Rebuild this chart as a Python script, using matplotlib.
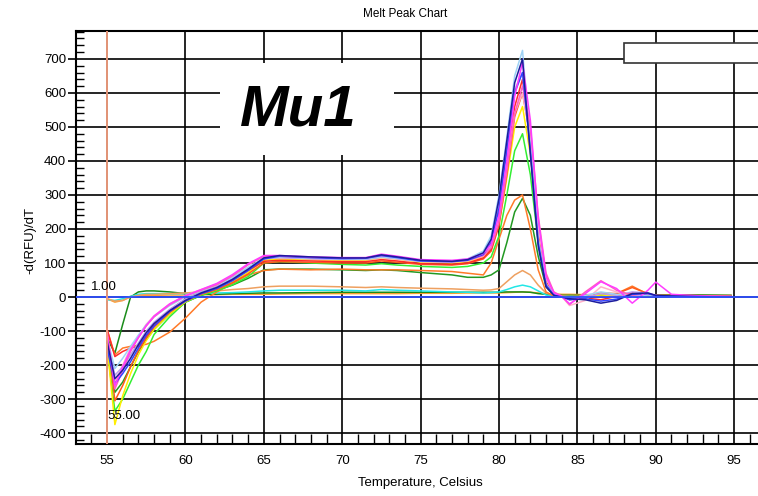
import matplotlib.pyplot as plt
from matplotlib.patches import Rectangle
from matplotlib.ticker import MultipleLocator

plt.rcParams["font.family"] = ["Liberation Sans", "DejaVu Sans"]
plt.rcParams["axes.unicode_minus"] = False

# Temperature points (Celsius) shared by all wells
temps = [55.0, 55.5, 56.0, 56.5, 57.0, 57.5, 58.0, 59.0, 60.0, 61.0, 62.0,
         63.0, 64.0, 65.0, 66.0, 68.0, 70.0, 71.5, 72.5, 73.5, 75.0, 77.0,
         78.0, 79.0, 79.5, 80.0, 80.5, 81.0, 81.5, 82.0, 82.5, 83.0, 83.5,
         84.0, 84.5, 85.5, 86.5, 87.5, 88.5, 89.5, 90.0, 91.0, 93.0, 94.8]

# -d(RFU)/dT per well
navy = [-130, -240, -215, -180, -140, -105, -78, -40, -10, 12, 28, 52, 82, 115, 122, 118, 115, 115, 124, 118, 108, 105,
        110, 130, 170, 290, 460, 630, 700, 420, 150, 30, 5, 0, -5, -8, -18, -10, 10, 12, 5, 3, 1, 0]
blue = [-150, -255, -225, -190, -150, -112, -85, -42, -12, 10, 25, 48, 78, 112, 120, 116, 113, 114, 122, 116, 106, 104,
        108, 125, 160, 260, 430, 600, 660, 430, 160, 35, 6, 0, -8, -5, -12, -6, 8, 10, 4, 2, 1, 0]
light_blue = [-120, -210, -180, -145, -112, -82, -58, -25, 0, 18, 35, 58, 88, 114, 118, 114, 112, 112, 118, 114, 106,
              106, 112, 135, 180, 300, 470, 650, 725, 450, 170, 35, 6, 0, -5, 5, 15, 8, 2, 6, 4, 2, 1, 0]
magenta = [-110, -260, -205, -155, -118, -84, -56, -20, 4, 22, 40, 66, 98, 122, 122, 118, 116, 116, 126, 120, 110, 108,
           112, 128, 155, 240, 400, 590, 690, 520, 230, 60, 12, 2, -20, 10, 45, 25, -18, 20, 44, 8, 3, 2]
hot_pink = [-100, -270, -215, -160, -120, -85, -58, -22, 3, 20, 36, 62, 95, 120, 120, 116, 114, 114, 122, 118, 108,
            106, 108, 122, 145, 220, 370, 540, 620, 500, 240, 70, 15, 3, -22, 15, 48, 20, 5, 10, 5, 3, 2, 1]
pink = [-115, -250, -200, -150, -115, -80, -55, -20, 5, 22, 38, 62, 95, 118, 115, 112, 110, 110, 116, 112, 104, 102,
        106, 120, 150, 235, 390, 540, 600, 470, 210, 55, 10, 2, -25, -10, 30, 15, 0, 8, 4, 2, 1, 0]
red = [-95, -175, -160, -150, -145, -115, -80, -38, -6, 14, 30, 50, 78, 105, 108, 106, 104, 104, 110, 106, 98, 96,
       100, 115, 140, 220, 380, 560, 640, 480, 200, 45, 8, 1, -6, -3, -8, 2, 12, 6, 3, 2, 1, 0]
lavender = [-125, -230, -205, -170, -135, -100, -74, -36, -6, 14, 30, 54, 84, 112, 116, 113, 111, 111, 118, 113, 105,
            104, 109, 128, 165, 270, 440, 610, 660, 440, 170, 40, 7, 1, -4, 0, 10, 5, 15, 12, 4, 2, 1, 0]
yellow = [-140, -375, -290, -225, -170, -128, -95, -50, -14, 8, 22, 44, 72, 108, 112, 110, 108, 108, 116, 112, 102, 100,
          104, 118, 140, 215, 350, 500, 560, 420, 190, 45, 8, 1, -3, 2, 6, 4, 3, 4, 3, 2, 1, 0]
lime = [-150, -335, -300, -250, -200, -160, -110, -58, -15, 5, 18, 36, 60, 100, 104, 100, 96, 94, 98, 94, 90, 87,
        90, 100, 118, 180, 300, 430, 480, 360, 160, 40, 8, 1, 0, 3, 8, 5, 4, 3, 2, 1, 1, 0]
red_orange = [-105, -305, -260, -205, -158, -120, -88, -45, -12, 8, 22, 42, 68, 100, 104, 102, 100, 100, 106, 102, 96,
              94, 98, 112, 135, 210, 360, 530, 600, 470, 220, 60, 12, 2, -8, 0, 12, 10, 28, 10, 4, 2, 1, 0]
orange_mid = [-95, -170, -150, -145, -142, -139, -130, -103, -62, -15, 15, 40, 65, 78, 82, 80, 82, 80, 80, 80, 78, 75,
              70, 65, 100, 170, 240, 285, 300, 200, 80, 15, 3, 0, 0, 5, 8, 10, 32, 8, 5, 5, 4, 3]
green_mid = [-120, -280, -250, -205, -160, -125, -95, -50, -15, 5, 20, 35, 55, 80, 82, 82, 80, 78, 80, 78, 72, 65,
             58, 58, 65, 80, 160, 250, 290, 240, 120, 30, 5, 0, 0, 4, 6, 8, 10, 6, 4, 3, 2, 2]
tan_low = [-5, -12, -10, 0, 5, 8, 8, 10, 12, 15, 18, 22, 25, 30, 32, 32, 30, 28, 30, 28, 26, 24,
           22, 20, 21, 25, 45, 65, 78, 65, 35, 12, 5, 3, 2, 2, 3, 3, 3, 2, 2, 2, 2, 1]
cyan_low = [-8, -10, -5, 2, 8, 10, 10, 10, 10, 11, 12, 13, 15, 18, 20, 20, 20, 18, 22, 20, 18, 15,
            14, 12, 13, 15, 22, 30, 35, 30, 18, 6, 3, 2, 2, 3, 4, 5, 3, 2, 2, 2, 1, 1]
green_low = [-120, -165, -80, 0, 15, 18, 18, 15, 10, 8, 8, 10, 11, 12, 12, 13, 14, 14, 14, 14, 14, 14,
             14, 14, 14, 14, 15, 15, 15, 14, 10, 8, 6, 5, 5, 5, 6, 6, 6, 6, 6, 6, 6, 5]
orange_low = [-5, -15, -10, 2, 5, 5, 5, 6, 6, 7, 7, 8, 8, 8, 9, 10, 10, 10, 10, 10, 11, 11,
              12, 12, 12, 12, 13, 14, 15, 14, 12, 10, 9, 8, 8, 7, 7, 7, 7, 6, 6, 6, 5, 5]

wells = [
    (orange_low, "#ffa030"), (green_low, "#1a8c1a"), (cyan_low, "#22e6e6"), (tan_low, "#eea060"),
    (green_mid, "#229922"), (orange_mid, "#ff7a28"), (lime, "#33ee33"), (yellow, "#ffee00"),
    (red_orange, "#ff5a1a"), (red, "#ff2a2a"), (pink, "#ffb0c8"), (lavender, "#b89cf0"),
    (light_blue, "#9fd3f5"), (hot_pink, "#ff5fbf"), (blue, "#3344ff"), (magenta, "#ff3cff"),
    (navy, "#1c1c9c"),
]

W, H = 758, 496
fig = plt.figure(figsize=(W / 100, H / 100), dpi=100)
ax = fig.add_axes([76 / W, 52 / H, (W - 76) / W, (444 - 31) / H])

for vals, col in wells:
    ax.plot(temps, vals, color=col, lw=1.1, zorder=3)

ax.axhline(0, color="#3050ff", lw=1.3, zorder=4)
ax.axvline(55, color="#f5a080", lw=1.3, zorder=4)

ax.set_xlim(53.02, 96.52)
ax.set_ylim(-432, 782)
ax.xaxis.set_major_locator(MultipleLocator(5))
ax.xaxis.set_minor_locator(MultipleLocator(1))
ax.yaxis.set_major_locator(MultipleLocator(100))
ax.yaxis.set_minor_locator(MultipleLocator(20))
ax.grid(True, which="major", color="black", lw=1.2, zorder=1)
ax.set_axisbelow(True)

ax.spines["right"].set_visible(False)
for s in ["left", "bottom", "top"]:
    ax.spines[s].set_linewidth(1.5)
ax.tick_params(axis="y", which="major", direction="out", length=6, width=1.2, labelsize=9.5, pad=1)
ax.tick_params(axis="y", which="minor", direction="in", length=6, width=1.0)
ax.tick_params(axis="x", which="major", direction="in", length=0, labelsize=9.5, pad=8)
ax.tick_params(axis="x", which="minor", direction="in", length=7, width=1.0)

ax.text(54.0, 30, "1.00", fontsize=9.5, va="center", ha="left", zorder=5)
ax.text(55.0, -349, "55.00", fontsize=9.5, va="center", ha="left", zorder=5)

# white box behind the big label
ax.add_patch(Rectangle(((220 - 76) / (W - 76), (444 - 155) / 413), 174 / (W - 76), 92 / 413,
                       transform=ax.transAxes, facecolor="white", edgecolor="none", zorder=2))
ax.text((298 - 76) / (W - 76), (444 - 111) / 413, "Mu1", transform=ax.transAxes,
        fontsize=42, fontweight="bold", fontstyle="italic", ha="center", va="center", zorder=5)

# empty legend box, top right
ax.add_patch(Rectangle(((624 - 76) / (W - 76), (444 - 63) / 413), 140 / (W - 76), 20 / 413,
                       transform=ax.transAxes, facecolor="white", edgecolor="#333333", lw=1.2,
                       zorder=5, clip_on=False))

fig.text(405 / W, 1 - 14 / H, "Melt Peak Chart", fontsize=8.5, ha="center", va="center")
fig.text(420 / W, 1 - 483 / H, "Temperature, Celsius", fontsize=9.5, ha="center", va="center")
fig.text(30 / W, 1 - 240 / H, "-d(RFU)/dT", fontsize=9.5, ha="center", va="center", rotation=90)

fig.savefig("out.png", dpi=100)
